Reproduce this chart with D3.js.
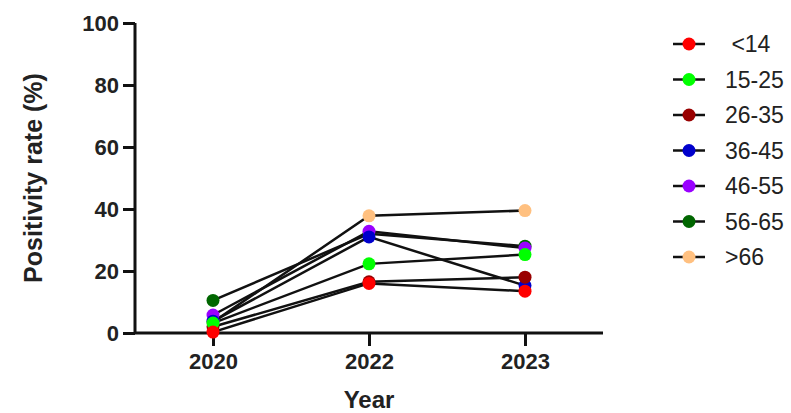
<!DOCTYPE html>
<html><head><meta charset="utf-8">
<script src="https://cdn.jsdelivr.net/npm/d3@7"></script>
<style>body{margin:0;background:#fff}svg{display:block}</style>
</head><body>
<script>
const years = ["2020", "2022", "2023"];
const groups = [" <14", "15-25", "26-35", "36-45", "46-55", "56-65", ">66"];
const colors = ["#ff0000", "#00ff00", "#990000", "#0000cc", "#9900ff", "#006600", "#ffc080"];
const s_lt14   = [0.3, 16.0, 13.5];
const s_15_25  = [3.2, 22.3, 25.3];
const s_26_35  = [2.0, 16.5, 18.0];
const s_36_45  = [3.8, 31.0, 15.3];
const s_46_55  = [5.8, 32.8, 27.4];
const s_56_65  = [10.5, 32.0, 28.0];
const s_gt66   = [3.5, 37.8, 39.5];
const yTicks = [0, 20, 40, 60, 80, 100];
const seriesVals = [s_lt14, s_15_25, s_26_35, s_36_45, s_46_55, s_56_65, s_gt66];

(function () {
const W = 791, H = 413;
const svg = d3.select("body").append("svg").attr("width", W).attr("height", H);
const mL = 135, mR = 603, mT = 23, mB = 333;
const x = d3.scalePoint().domain(years).range([mL, mR]).padding(0.5);
const y = d3.scaleLinear().domain([0, 100]).range([mB, mT]);

const font = "Liberation Sans, Arial, sans-serif";

const ya = svg.append("g").attr("transform", `translate(${mL},0)`)
  .call(d3.axisLeft(y).tickValues(yTicks).tickSize(12).tickPadding(4));
ya.select(".domain").attr("stroke", "#111").attr("stroke-width", 3).attr("d", `M0,${mT}V${mB}`);
ya.selectAll(".tick line").attr("stroke", "#111").attr("stroke-width", 3);
ya.selectAll(".tick text").attr("font-family", font).attr("font-weight", "bold").attr("font-size", 22).attr("fill", "#222");

const xa = svg.append("g").attr("transform", `translate(0,${mB})`)
  .call(d3.axisBottom(x).tickSize(13).tickPadding(7));
xa.select(".domain").attr("stroke", "#111").attr("stroke-width", 3).attr("d", `M${mL},0H${mR}`);
xa.selectAll(".tick line").attr("stroke", "#111").attr("stroke-width", 3);
xa.selectAll(".tick text").attr("font-family", font).attr("font-weight", "bold").attr("font-size", 22).attr("fill", "#222");

svg.append("text").attr("transform", `translate(42,178) rotate(-90)`)
  .attr("text-anchor", "middle").attr("font-family", font).attr("font-weight", "bold")
  .attr("font-size", 25).attr("fill", "#222").text("Positivity rate (%)");
svg.append("text").attr("x", x("2022")).attr("y", 408)
  .attr("text-anchor", "middle").attr("font-family", font).attr("font-weight", "bold")
  .attr("font-size", 24).attr("fill", "#222").text("Year");

const line = d3.line().x((d, i) => x(years[i])).y(d => y(d));
seriesVals.forEach((vals) => {
  svg.append("path").attr("d", line(vals)).attr("fill", "none")
    .attr("stroke", "#111").attr("stroke-width", 2.5);
});
// earlier series drawn on top
seriesVals.map((v, k) => k).reverse().forEach((k) => {
  svg.append("g").selectAll("circle").data(seriesVals[k]).join("circle")
    .attr("cx", (d, i) => x(years[i])).attr("cy", d => y(d)).attr("r", 6.5)
    .attr("fill", colors[k]);
});

const lg = svg.append("g");
groups.forEach((g, k) => {
  const cy = 44 + k * 35.5;
  lg.append("line").attr("x1", 673).attr("x2", 705).attr("y1", cy).attr("y2", cy)
    .attr("stroke", "#111").attr("stroke-width", 2.5);
  lg.append("circle").attr("cx", 689).attr("cy", cy).attr("r", 6.5).attr("fill", colors[k]);
  lg.append("text").attr("x", 725).attr("y", cy + 8).attr("font-family", font)
    .attr("font-size", 23).attr("fill", "#222").style("white-space", "pre").text(g);
});
})();
</script>
</body></html>
